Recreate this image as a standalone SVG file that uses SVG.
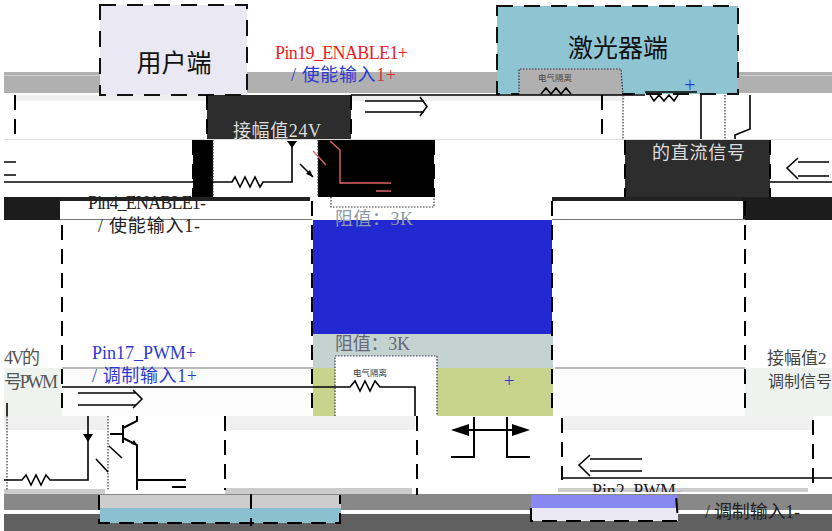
<svg xmlns="http://www.w3.org/2000/svg" width="832" height="531" viewBox="0 0 832 531">
<defs>
<style>
text{font-family:"Liberation Serif","Noto Sans CJK SC",serif}
.w{fill:none;stroke:#000;stroke-width:1.6}
.t{fill:none;stroke:#000;stroke-width:2}
.box{stroke:#111;stroke-width:2;stroke-dasharray:16 11}
.da{fill:none;stroke:#000;stroke-width:2;stroke-dasharray:15 9}
.do{fill:none;stroke:#334;stroke-width:1.2;stroke-dasharray:1.5 1.5}
.g{fill:none;stroke:#777;stroke-width:1}
.lbl{font-size:18px}
</style>
<clipPath id="pin2clip"><rect x="585" y="478" width="100" height="14"/></clipPath>
</defs>
<rect width="832" height="531" fill="#fff"/>
<g id="bands">
<rect x="4" y="72" width="828" height="21" fill="#b0b0b0"/>
<rect x="4" y="75" width="97" height="1" fill="#ccc"/>
<rect x="740" y="75" width="92" height="1" fill="#ccc"/>
<rect x="14" y="95" width="193" height="6" fill="#efefef"/>
<rect x="351" y="95" width="274" height="6" fill="#efefef"/>
<rect x="4" y="139" width="828" height="1" fill="#ddd"/>
<rect x="207" y="95" width="144" height="44" fill="#2d2d2d"/>
<rect x="625" y="140" width="145" height="57" fill="#2d2d2d"/>
<rect x="193" y="140" width="20" height="57" fill="#000"/>
<rect x="318" y="140" width="116" height="57" fill="#000"/>
<rect x="4" y="197" width="56" height="23" fill="#1c1c1c"/>
<rect x="60" y="197" width="250" height="4" fill="#222"/>
<rect x="552" y="197" width="193" height="4" fill="#222"/>
<rect x="743" y="197" width="89" height="23" fill="#1c1c1c"/>
<rect x="330" y="197" width="104" height="10" fill="#fff"/>
<path class="do" d="M331 197V207H434V197"/>
<rect x="313" y="220" width="239" height="114" fill="#2329d0"/>
<rect x="313" y="334" width="240" height="34" fill="#c4d2d0"/>
<rect x="313" y="368" width="240" height="48" fill="#c8d48c"/>
<rect x="4" y="368" width="58" height="48" fill="#eef3f0"/>
<rect x="745" y="368" width="87" height="48" fill="#eef3f0"/>
<rect x="62" y="369" width="251" height="47" fill="#fcfcfc"/>
<rect x="555" y="369" width="190" height="47" fill="#fcfcfc"/>
<rect x="4" y="416" width="104" height="14" fill="#f0f0f0"/>
<rect x="225" y="416" width="190" height="14" fill="#f0f0f0"/>
<rect x="562" y="416" width="251" height="14" fill="#f0f0f0"/>
<rect x="4" y="489" width="101" height="5" fill="#ccc"/>
<rect x="225" y="488" width="187" height="6" fill="#ccc"/>
<rect x="558" y="488" width="250" height="4" fill="#ccc"/>
<rect x="4" y="494" width="828" height="16" fill="#888"/>
<rect x="4" y="514" width="828" height="17" fill="#606060"/>
</g>
<g id="user-node">
<rect x="100" y="5" width="147" height="90" fill="#eae8f2" class="box"/>
<text x="174" y="72" font-size="25" text-anchor="middle" fill="#111">用户端</text>
</g>
<g id="laser-node">
<rect x="497" y="6" width="241" height="88" fill="#8fc5d2" class="box"/>
<text x="618" y="57" font-size="25" text-anchor="middle" fill="#111">激光器端</text>
<rect x="519" y="69" width="103" height="26" fill="#b0b0b0"/>
<path class="do" d="M519 95V69H621L623 95"/>
<text x="538" y="81" font-size="8.500" fill="#444">电气隔离</text>
<text x="690" y="92" font-size="20" text-anchor="middle" fill="#2d3ad0">+</text>
</g>
<g id="user-bottom">
<rect x="99" y="495" width="242" height="13" fill="#ccc"/>
<rect x="100" y="508" width="241" height="15" fill="#8bc0d0"/>
<path class="t" d="M99 495V523H340V495M251 494V526" stroke-dasharray="15 9"/>
</g>
<g id="laser-bottom">
<rect x="531" y="495" width="146" height="13" fill="#8888f0"/>
<rect x="532" y="508" width="146" height="13" fill="#eae8f2"/>
<path class="t" d="M531 508V521H678L676 495" stroke-dasharray="15 9"/>
</g>
<g id="connectors">
<path class="da" stroke="#c06" d="M15 95V139"/>
<path class="da" d="M207 95V139M351 95V139"/>
<path class="da" d="M193 140V197M625 140V197M434 140V197M770 140V197"/>
<path class="do" d="M213 140V197M318 140V197"/>
<path class="w" d="M351 95H645M645 92H697"/>
<path class="w" d="M541 94l5-6 5 6 5-6 5 6 5-6 5 6M650 95l4 6 5-6 5 6 5-6 5 6 4-6"/>
<path class="da" d="M602 95V139"/>
<path class="do" d="M623 95V139M725 95V139"/>
<path class="w" d="M701 95V139M750 95V129L735 135V139"/>
<path class="w" d="M365 101H424M365 112H424M420 97L427 106.500L420 116"/>
<path class="w" d="M829 162H798M829 176H798M798 158L787 168L798 179"/>
<path class="w" d="M770 182H832"/>
<path class="w" d="M4 162H16M4 175H16M4 182H232l3-5 5 10 5-10 5 10 5-10 5 10 3-5H292V145"/>
<path d="M287 141H297L292 148Z" fill="#000"/>
<path class="w" d="M300 164L313 177"/>
<path d="M313 177L306 174L310 170Z" fill="#000"/>
<path fill="none" stroke="#d66" stroke-width="1.400" d="M313 151L326 165M330 141L340 150V183H391M376 191H391"/>
<path class="da" d="M62 225V416M312 201V416M417 416V495M552 201V416M745 201V416M225 416V490M562 418V480M813 420V490"/>
<path class="g" d="M60 219.500H312M552 219.500H745M62 368H313M555 368H745"/>
<path class="w" d="M62 387H335"/>
<rect x="335" y="356" width="102" height="60" fill="#fff"/>
<path class="do" d="M335 416V356H437V416"/>
<text x="353" y="376" font-size="8.500" fill="#333">电气隔离</text>
<path class="w" d="M335 387H350l5-6 5 10 5-10 5 10 5-10 5 6H415V416"/>
<path class="w" d="M78 393H136M78 405H136M133 390L142 399L133 408"/>
<path class="w" d="M7 403V416"/>
<path class="do" d="M7 416V490M108 416V490"/>
<path class="w" d="M4 480H22l4-5 5 10 5-10 5 10 5-10 4 5H88V416"/>
<path d="M83 434H93L88 442Z" fill="#000"/>
<path class="w" d="M96 459L108 472M109 446L122 458"/>
<path class="t" d="M110 434H123M123 425V443M123 428L137 421V416M123 438L137 445V490M137 480H186M172 487H186"/>
<path d="M137 445L131 444L134 440Z" fill="#000"/>
<path d="M451 430L469 424V436ZM530 430L512 424V436Z" fill="#000"/>
<path class="t" d="M469 430H512M474 417V457H451M507 417V457H530"/>
<path class="w" d="M642 459H590M642 471H590M590 455L579 465L590 476"/>
<path class="w" d="M562 478H832"/>
</g>
<g id="labels">
<text class="lbl" x="275" y="59" fill="#ee1c25" textLength="133">Pin19_ENABLE1+</text>
<text class="lbl" x="291" y="81" fill="#2d3ad0" textLength="105">/ 使能输入<tspan fill="#d33">1+</tspan></text>
<text class="lbl" x="233" y="137" fill="#ddd" textLength="88">接幅值24V</text>
<text class="lbl" x="652" y="159" fill="#ddd" textLength="93">的直流信号</text>
<text class="lbl" x="88" y="209" fill="#222" textLength="118">Pin4_ENABLE1-</text>
<text class="lbl" x="98" y="232" fill="#222" textLength="102">/ 使能输入1-</text>
<text class="lbl" x="335" y="225" fill="#8c9aa8" textLength="78">阻值：3K</text>
<text class="lbl" x="335" y="350" fill="#667" textLength="75">阻值：3K</text>
<text class="lbl" x="92" y="359" fill="#2d3ad0" textLength="104">Pin17_PWM+</text>
<text class="lbl" x="92" y="382" fill="#2d3ad0" textLength="105">/ 调制输入1+</text>
<text class="lbl" x="4" y="364" fill="#555" textLength="36">4V的</text>
<text class="lbl" x="4" y="388" fill="#555" textLength="54">号PWM</text>
<text x="767" y="364" font-size="17" fill="#444">接幅值2</text>
<text x="768" y="387" font-size="16" fill="#444">调制信号</text>
<text x="509" y="387" font-size="19" text-anchor="middle" fill="#2d3ad0">+</text>
<text class="lbl" x="705" y="518" fill="#222" textLength="95">/ 调制输入1-</text>
<text class="lbl" x="592" y="497" fill="#222" textLength="90" clip-path="url(#pin2clip)">Pin2_PWM-</text>
</g>
</svg>
